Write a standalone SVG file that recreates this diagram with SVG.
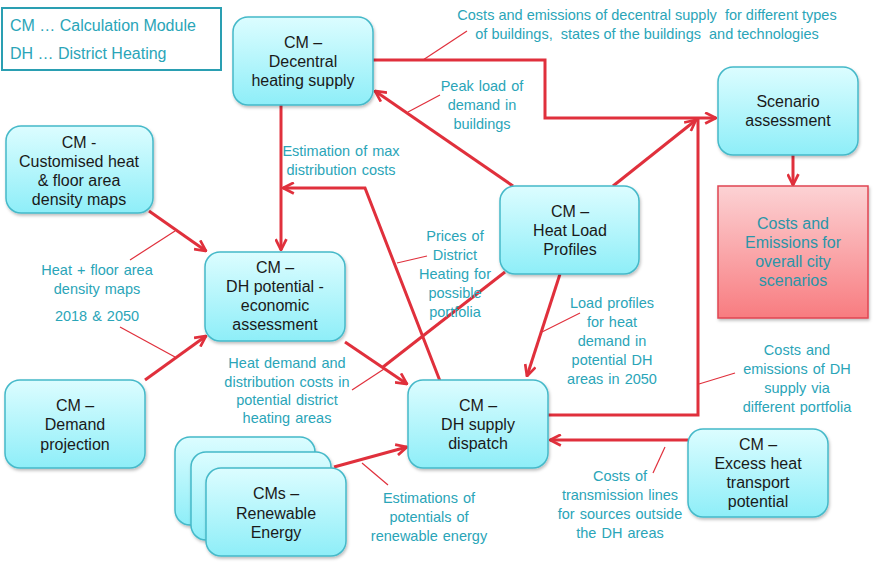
<svg xmlns="http://www.w3.org/2000/svg" width="873" height="565" viewBox="0 0 873 565">
<style>
.n{fill:url(#g);stroke:#45b9c9;stroke-width:1.5;filter:url(#sh)}
.t{font-family:"Liberation Sans",Arial,sans-serif;font-size:16px;fill:#1a1a1a;text-anchor:middle}
.l{font-family:"Liberation Sans",Arial,sans-serif;font-size:14.5px;fill:#2aa5b8;text-anchor:middle;word-spacing:1px;white-space:pre}
.w0{word-spacing:0}
.c{fill:none;stroke:#e0303c;stroke-width:3;stroke-linejoin:miter}
.a{marker-end:url(#ah)}
.k{fill:none;stroke:#e0303c;stroke-width:1.2}
</style>
<defs>
<linearGradient id="g" x1="0" y1="0" x2="0" y2="1">
<stop offset="0" stop-color="#dcfdff"/>
<stop offset="1" stop-color="#8eeef8"/>
</linearGradient>
<linearGradient id="r" x1="0" y1="0" x2="0" y2="1">
<stop offset="0" stop-color="#fcd2d4"/>
<stop offset="1" stop-color="#f87c80"/>
</linearGradient>
<filter id="sh" x="-10%" y="-10%" width="130%" height="130%">
<feDropShadow dx="1" dy="2" stdDeviation="1.5" flood-color="#000" flood-opacity="0.25"/>
</filter>
<marker id="ah" viewBox="0 0 12 12" refX="11" refY="6" markerWidth="13" markerHeight="13" markerUnits="userSpaceOnUse" orient="auto">
<path d="M1,1 L11,6 L1,11" fill="none" stroke="#e0303c" stroke-width="2.5"/>
</marker>
</defs>
<rect width="873" height="565" fill="#fff"/>

<g id="connectors">
<polyline class="c a" points="373,60 545,60 545,118 716,118"/>
<line class="k" x1="423" y1="60" x2="467" y2="31"/>
<line class="c a" x1="513" y1="186" x2="375" y2="91"/>
<line class="k" x1="408" y1="112" x2="440" y2="95"/>
<line class="c a" x1="613" y1="186" x2="696" y2="120"/>
<polyline class="c" points="548,415 698,415 698,118"/>
<line class="k" x1="699" y1="384" x2="735" y2="373"/>
<line class="c a" x1="793" y1="155" x2="793" y2="185"/>
<line class="c a" x1="560" y1="274" x2="527" y2="376"/>
<line class="k" x1="542" y1="332" x2="580" y2="313"/>
<line class="c a" x1="149" y1="211" x2="206" y2="251"/>
<line class="k" x1="130" y1="260" x2="175" y2="231"/>
<line class="c a" x1="145" y1="380" x2="206" y2="336"/>
<line class="k" x1="120" y1="327" x2="175" y2="357"/>
<line class="c a" x1="345" y1="342" x2="407" y2="384"/>
<line class="c" x1="505" y1="272" x2="383" y2="367"/>
<line class="k" x1="352" y1="390" x2="384" y2="369"/>
<polyline class="c a" points="440,381 365,188 283,188"/>
<line class="k" x1="397" y1="263" x2="427" y2="256"/>
<line class="c a" x1="281" y1="105" x2="281" y2="250"/>
<line class="c a" x1="334" y1="467" x2="407" y2="447"/>
<line class="k" x1="362" y1="463" x2="388" y2="485"/>
<line class="c a" x1="688" y1="440" x2="550" y2="440"/>
<line class="k" x1="665" y1="447" x2="653" y2="473"/>
</g>

<g id="legend">
<rect x="2" y="8" width="219" height="62" fill="#fff" stroke="#2a9fb2" stroke-width="2"/>
<text x="10" y="31" font-family="Liberation Sans,Arial,sans-serif" font-size="16" fill="#2aa5b8">CM … Calculation Module</text>
<text x="10" y="59" font-family="Liberation Sans,Arial,sans-serif" font-size="16" fill="#2aa5b8">DH … District Heating</text>
</g>

<g id="decentral">
<rect class="n" x="233" y="17" width="140" height="88" rx="15"/>
<text class="t" x="303" y="48">CM –</text>
<text class="t" x="303" y="67">Decentral</text>
<text class="t" x="303" y="86">heating supply</text>
</g>

<g id="customised">
<rect class="n" x="6" y="126" width="147" height="87" rx="15"/>
<text class="t" x="79" y="148">CM -</text>
<text class="t" x="79" y="167">Customised heat</text>
<text class="t" x="79" y="186">&amp; floor area</text>
<text class="t" x="79" y="205">density maps</text>
</g>

<g id="dhpotential">
<rect class="n" x="205" y="252" width="140" height="89" rx="15"/>
<text class="t" x="275" y="273">CM –</text>
<text class="t" x="275" y="292">DH potential -</text>
<text class="t" x="275" y="311">economic</text>
<text class="t" x="275" y="330">assessment</text>
</g>

<g id="demand">
<rect class="n" x="5" y="380" width="140" height="88" rx="15"/>
<text class="t" x="75" y="411">CM –</text>
<text class="t" x="75" y="430">Demand</text>
<text class="t" x="75" y="450">projection</text>
</g>

<g id="renewable">
<rect class="n" x="175" y="437" width="140" height="88" rx="15"/>
<rect class="n" x="191" y="452" width="140" height="88" rx="15"/>
<rect class="n" x="206" y="468" width="140" height="88" rx="15"/>
<text class="t" x="276" y="499">CMs –</text>
<text class="t" x="276" y="519">Renewable</text>
<text class="t" x="276" y="538">Energy</text>
</g>

<g id="dhsupply">
<rect class="n" x="408" y="380" width="140" height="88" rx="15"/>
<text class="t" x="478" y="411">CM –</text>
<text class="t" x="478" y="430">DH supply</text>
<text class="t" x="478" y="449">dispatch</text>
</g>

<g id="heatload">
<rect class="n" x="500" y="186" width="139" height="88" rx="15"/>
<text class="t" x="570" y="217">CM –</text>
<text class="t" x="570" y="236">Heat Load</text>
<text class="t" x="570" y="255">Profiles</text>
</g>

<g id="scenario">
<rect class="n" x="718" y="67" width="140" height="88" rx="15"/>
<text class="t" x="788" y="107">Scenario</text>
<text class="t" x="788" y="126">assessment</text>
</g>

<g id="costs">
<rect x="718" y="186" width="150" height="132" fill="url(#r)" stroke="#e04552" stroke-width="1.5" filter="url(#sh)"/>
<text class="t" x="793" y="229" style="fill:#2a95a8">Costs and</text>
<text class="t" x="793" y="248" style="fill:#2a95a8">Emissions for</text>
<text class="t" x="793" y="267" style="fill:#2a95a8">overall city</text>
<text class="t" x="793" y="286" style="fill:#2a95a8">scenarios</text>
</g>

<g id="excess">
<rect class="n" x="688" y="429" width="140" height="88" rx="15"/>
<text class="t" x="758" y="450">CM –</text>
<text class="t" x="758" y="469">Excess heat</text>
<text class="t" x="758" y="488">transport</text>
<text class="t" x="758" y="507">potential</text>
</g>

<g id="labels">
<text class="l w0" x="647" y="20">Costs and emissions of decentral supply  for different types</text>
<text class="l w0" x="647" y="39">of buildings,  states of the buildings  and technologies</text>
<text class="l" x="482" y="91">Peak load of</text>
<text class="l" x="482" y="110">demand in</text>
<text class="l" x="482" y="129">buildings</text>
<text class="l" x="341" y="156">Estimation of max</text>
<text class="l" x="341" y="175">distribution costs</text>
<text class="l" x="97" y="275">Heat + floor area</text>
<text class="l" x="97" y="294">density maps</text>
<text class="l" x="97" y="321">2018 &amp; 2050</text>
<text class="l" x="455" y="241">Prices of</text>
<text class="l" x="455" y="260">District</text>
<text class="l" x="455" y="279">Heating for</text>
<text class="l" x="455" y="298">possible</text>
<text class="l" x="455" y="317">portfolia</text>
<text class="l" x="612" y="308">Load profiles</text>
<text class="l" x="612" y="327">for heat</text>
<text class="l" x="612" y="346">demand in</text>
<text class="l" x="612" y="365">potential DH</text>
<text class="l" x="612" y="384">areas in 2050</text>
<text class="l" x="797" y="355">Costs and</text>
<text class="l" x="797" y="374">emissions of DH</text>
<text class="l" x="797" y="393">supply via</text>
<text class="l" x="797" y="412">different portfolia</text>
<text class="l" x="287" y="368">Heat demand and</text>
<text class="l" x="287" y="387">distribution costs in</text>
<text class="l" x="287" y="405">potential district</text>
<text class="l" x="287" y="423">heating areas</text>
<text class="l" x="429" y="503">Estimations of</text>
<text class="l" x="429" y="522">potentials of</text>
<text class="l" x="429" y="541">renewable energy</text>
<text class="l" x="620" y="481">Costs of</text>
<text class="l" x="620" y="500">transmission lines</text>
<text class="l" x="620" y="519">for sources outside</text>
<text class="l" x="620" y="538">the DH areas</text>
</g>
</svg>
